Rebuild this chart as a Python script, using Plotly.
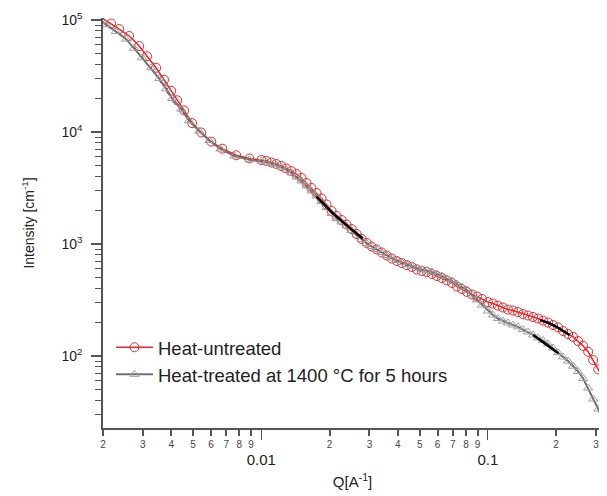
import numpy as np
import plotly.graph_objects as go

# ---------------- data ----------------
q_untreated = [0.00198, 0.00217, 0.00236, 0.00261, 0.00289, 0.00313, 0.00343, 0.00372,
               0.00400, 0.00425, 0.00456, 0.00495, 0.00543, 0.00601, 0.00672, 0.00775,
               0.00885,
               0.01000, 0.01052, 0.01107, 0.01165, 0.01226, 0.01290, 0.01358, 0.01429,
               0.01504, 0.01582, 0.01665, 0.01752, 0.01844, 0.01940, 0.02042, 0.02148,
               0.02261, 0.02379, 0.02503, 0.02634, 0.02772, 0.02917, 0.03070, 0.03230,
               0.03399, 0.03577, 0.03764, 0.03961, 0.04168, 0.04386, 0.04616, 0.04857,
               0.05111, 0.05378, 0.05660, 0.05956, 0.06267, 0.06595, 0.06940, 0.07303,
               0.07685, 0.08087, 0.08510, 0.08955, 0.09423,
               0.1000, 0.1052, 0.1107, 0.1165, 0.1226, 0.1290, 0.1358, 0.1429,
               0.1504, 0.1582, 0.1665, 0.1752, 0.1844, 0.1940, 0.2042, 0.2148,
               0.2261, 0.2379, 0.2503, 0.2634, 0.2772, 0.2917, 0.3070, 0.3230, 0.3364]
i_untreated = [1.04e5, 9.3e4, 8.3e4, 7.2e4, 5.85e4, 4.75e4, 3.75e4, 2.93e4,
               2.33e4, 1.92e4, 1.56e4, 1.2e4, 9900, 8200, 7100, 6200,
               5800,
               5623, 5510, 5342, 5179, 4970, 4722, 4486, 4217,
               3885, 3505, 3162, 2853, 2549, 2253, 1970, 1778,
               1638, 1494, 1361, 1228, 1108, 1021, 950, 893,
               840, 790, 742, 705, 677, 649, 623, 592,
               574, 562, 540, 518, 497, 472, 449, 417,
               396, 373, 354, 340, 323,
               303, 294, 282, 271, 260, 255, 247, 237,
               230, 223, 216, 207, 199, 189, 180, 167,
               157, 148, 136, 123, 109, 92, 76, 62, 53]

q_treated = [0.00198, 0.00206, 0.00228, 0.00253, 0.00274, 0.00297, 0.00326, 0.00354,
             0.00380, 0.00404, 0.00443, 0.00480, 0.00532, 0.00589, 0.00660, 0.00760,
             0.00885,
             0.01000, 0.01052, 0.01107, 0.01165, 0.01226, 0.01290, 0.01358, 0.01429,
             0.01504, 0.01582, 0.01665, 0.01752, 0.01844, 0.01940, 0.02042, 0.02148,
             0.02261, 0.02379, 0.02503, 0.02634, 0.02772, 0.02917, 0.03070, 0.03230,
             0.03399, 0.03577, 0.03764, 0.03961, 0.04168, 0.04386, 0.04616, 0.04857,
             0.05111, 0.05378, 0.05660, 0.05956, 0.06267, 0.06595, 0.06940, 0.07303,
             0.07685, 0.08087, 0.08510, 0.08955, 0.09423,
             0.1000, 0.1052, 0.1107, 0.1165, 0.1226, 0.1290, 0.1358, 0.1429,
             0.1504, 0.1582, 0.1665, 0.1752, 0.1844, 0.1940, 0.2042, 0.2148,
             0.2261, 0.2379, 0.2503, 0.2634, 0.2772, 0.2917, 0.3070, 0.3230, 0.3364]
i_treated = [9.7e4, 9.1e4, 7.9e4, 6.75e4, 5.6e4, 4.6e4, 3.75e4, 3.0e4,
             2.43e4, 1.99e4, 1.6e4, 1.26e4, 1.02e4, 8400, 7050, 6100,
             5650,
             5510, 5397, 5233, 5074, 4870, 4578, 4304, 3965,
             3652, 3295, 2973, 2683, 2396, 2118, 1872, 1689,
             1572, 1448, 1320, 1203, 1097, 1010, 950, 893,
             840, 790, 750, 712, 684, 656, 636, 611,
             592, 580, 562, 540, 518, 487, 467, 439,
             413, 388, 350, 316, 285,
             252, 232, 216, 205, 197, 189, 182, 172,
             164, 154, 145, 137.5, 128, 118, 107, 98,
             90, 81, 72.7, 63, 51.8, 41.3, 33.6, 26.8, 21.8]

# black fit segments
q_fit_mid = [0.0175, 0.0206, 0.0245, 0.0280]
i_fit_mid = [2650, 1900, 1400, 1120]
q_fit_untreated = [0.170, 0.185, 0.200, 0.2295]
i_fit_untreated = [209, 198, 183, 154]
q_fit_treated = [0.1585, 0.178, 0.2046]
i_fit_treated = [154, 131, 106]

x_minor_vals = [0.002, 0.003, 0.004, 0.005, 0.006, 0.007, 0.008, 0.009,
                0.02, 0.03, 0.04, 0.05, 0.06, 0.07, 0.08, 0.09, 0.2, 0.3]
x_minor_text = ["2", "3", "4", "5", "6", "7", "8", "9",
                "2", "3", "4", "5", "6", "7", "8", "9", "2", "3"]
x_major_vals = [0.01, 0.1]
x_major_text = ["0.01", "0.1"]
y_major_vals = [1e2, 1e3, 1e4, 1e5]
y_major_text = ["10<sup>2</sup>", "10<sup>3</sup>", "10<sup>4</sup>", "10<sup>5</sup>"]
y_minor_vals = [m * d for d in (10, 100, 1000, 10000) for m in range(2, 10)]

# ---------------- figure ----------------
FONT = "Liberation Sans, Arial, sans-serif"
AX = "#555555"
x_range = [np.log10(0.002), np.log10(0.319)]
y_range = [1.357, 5.018]

fig = go.Figure()
fig.add_trace(go.Scatter(
    x=q_untreated, y=i_untreated, mode="lines+markers", name="Heat-untreated",
    line=dict(color="#e8282b", width=1.5),
    marker=dict(symbol="circle-open", size=9, color="#e8282b", line=dict(width=1)),
    cliponaxis=False))
fig.add_trace(go.Scatter(
    x=q_treated, y=i_treated, mode="lines+markers",
    name="Heat-treated at 1400 °C for 5 hours",
    line=dict(color="#707070", width=2),
    marker=dict(symbol="triangle-up-open", size=8, color="#a0a0a0", line=dict(width=1)),
    cliponaxis=False))
for qq, ii in ((q_fit_mid, i_fit_mid), (q_fit_untreated, i_fit_untreated),
               (q_fit_treated, i_fit_treated)):
    fig.add_trace(go.Scatter(x=qq, y=ii, mode="lines", xaxis="x2", showlegend=False,
                             line=dict(color="black", width=2.5), hoverinfo="skip"))

fig.update_layout(
    width=607, height=496,
    margin=dict(l=95, r=13, t=10, b=76),
    paper_bgcolor="white", plot_bgcolor="white",
    font=dict(family=FONT, color="#333333"),
    showlegend=True,
    legend=dict(x=0.016, y=0.242, xanchor="left", yanchor="top", itemwidth=37,
                bgcolor="rgba(0,0,0,0)", font=dict(size=18.5, family=FONT, color="#222"),
                tracegroupgap=0),
    xaxis=dict(type="log", range=x_range, showgrid=False, zeroline=False,
               showline=True, linecolor=AX, linewidth=1.5,
               ticks="outside", ticklen=6, tickwidth=1.5, tickcolor=AX,
               tickmode="array", tickvals=x_minor_vals, ticktext=x_minor_text,
               tickfont=dict(size=10, color="#444"),
               title=dict(text="Q[A<sup>-1</sup>]", font=dict(size=15, color="#222"),
                          standoff=28),
               automargin=False),
    xaxis2=dict(type="log", range=x_range, overlaying="x", anchor="y", side="bottom",
                showgrid=False, zeroline=False, showline=False,
                ticks="outside", ticklen=11, tickwidth=1.2, tickcolor=AX,
                tickmode="array", tickvals=x_major_vals, ticktext=x_major_text,
                tickfont=dict(size=15, color="#222"), ticklabelstandoff=7,
                automargin=False),
    yaxis=dict(type="log", range=y_range, showgrid=False, zeroline=False,
               showline=True, linecolor=AX, linewidth=1.5,
               ticks="outside", ticklen=10, tickwidth=1.5, tickcolor=AX,
               tickmode="array", tickvals=y_major_vals, ticktext=y_major_text,
               tickfont=dict(size=14, color="#222"), ticklabelstandoff=6,
               minor=dict(tickmode="array", tickvals=y_minor_vals, ticks="outside",
                          ticklen=6, tickwidth=1, tickcolor=AX),
               title=dict(text="Intensity [cm<sup>-1</sup>]", font=dict(size=14, color="#222"),
                          standoff=24),
               automargin=False),
)

fig.write_html("out.html")
